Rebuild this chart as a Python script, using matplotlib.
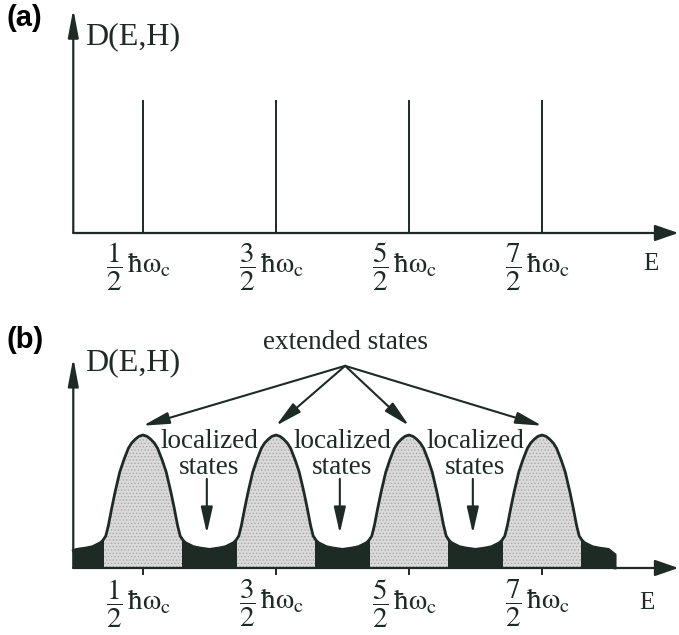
import numpy as np
import matplotlib.pyplot as plt
from matplotlib.patches import Rectangle

plt.rcParams['mathtext.fontset'] = 'stix'
plt.rcParams['hatch.linewidth'] = 0.6

# Landau levels in units of hbar*omega_c
levels = [0.5, 1.5, 2.5, 3.5]
level_numerators = ['1', '3', '5', '7']
delta_height = 1.0

# broadened level: half profile, offset from the level vs. height
profile_offset = [0.0, 0.03, 0.056, 0.085, 0.11, 0.145, 0.175, 0.21, 0.235, 0.26, 0.28, 0.30, 0.32, 0.38, 0.43, 0.50]
profile_height = [1.0, 0.99, 0.97, 0.94, 0.90, 0.81, 0.72, 0.57, 0.45, 0.32, 0.24, 0.21, 0.19, 0.16, 0.15, 0.14]
start_height = 0.13
tail_offset = 0.55
tail_height = 0.10
extended_halfwidth = 0.29

dark = '#1e2a24'
X_LEFT, X_RIGHT = -0.575, 4.53
Y_AXIS = -0.024

fig = plt.figure(figsize=(6.79, 6.35), dpi=100)
ax_a = fig.add_axes([0, 325 / 635, 1, 310 / 635])
ax_b = fig.add_axes([0, 0, 1, 325 / 635])
ax_a.set_xlim(X_LEFT, X_RIGHT)
ax_a.set_ylim(-0.579, 1.752)
ax_b.set_xlim(X_LEFT, X_RIGHT)
ax_b.set_ylim(-0.504, 1.94)
for ax in (ax_a, ax_b):
    ax.axis('off')


def draw_axes(ax, y_top, tag, tag_y, dos_y, label_y, e_pos):
    ax.annotate('', xy=(Y_AXIS, y_top), xytext=(Y_AXIS, 0), annotation_clip=False,
                arrowprops=dict(arrowstyle='-|>,head_length=0.85,head_width=0.16',
                                mutation_scale=20, lw=1.6, color=dark, shrinkA=0, shrinkB=0))
    ax.annotate('', xy=(X_RIGHT - 0.005, 0), xytext=(Y_AXIS, 0), annotation_clip=False,
                arrowprops=dict(arrowstyle='-|>,head_length=0.72,head_width=0.25',
                                mutation_scale=20, lw=1.6, color=dark, shrinkA=0, shrinkB=0))
    ax.text(-0.523, tag_y, tag, fontsize=21, fontweight='bold', family='Liberation Sans',
            ha='left', va='center', color='black')
    ax.text(0.064, dos_y, 'D(E,H)', fontsize=23, family='Liberation Serif',
            ha='left', va='center', color=dark)
    for c, num in zip(levels, level_numerators):
        ax.text(c - 0.03, label_y, r'$\dfrac{%s}{2}\,\mathrm{\hbar\omega}_\mathrm{c}$' % num,
                fontsize=21, ha='center', va='center', color=dark)
    ax.text(e_pos[0], e_pos[1], 'E', fontsize=18, family='Liberation Serif',
            ha='center', va='center', color=dark)


# (a) delta-function levels
draw_axes(ax_a, 1.684, '(a)', 1.617, 1.474, -0.256, (4.32, -0.233))
ax_a.vlines(levels, 0, delta_height, color=dark, lw=1.4)

# (b) broadened levels
draw_axes(ax_b, 1.58, '(b)', 1.714, 1.54, -0.27, (4.29, -0.26))

xs = [Y_AXIS]
ys = [start_height]
for c in levels:
    xs += [c - o for o in profile_offset[::-1]] + [c + o for o in profile_offset[1:]]
    ys += profile_height[::-1] + profile_height[1:]
xs += [levels[-1] + tail_offset, levels[-1] + tail_offset]
ys += [tail_height, 0]
xs = np.array(xs)
ys = np.array(ys)

ax_b.fill_between(xs, 0, ys, color=dark, lw=0)
for c in levels:
    light = ax_b.fill_between(xs, 0, ys, facecolor='#dadada', edgecolor='#a8a8a8',
                              hatch='.....', lw=0)
    clip = Rectangle((c - extended_halfwidth, -0.1), 2 * extended_halfwidth, 1.3,
                     transform=ax_b.transData)
    light.set_clip_path(clip)
ax_b.plot(xs, ys, color=dark, lw=2, solid_joinstyle='round')
ax_b.vlines(levels, -0.05, 0, color=dark, lw=1.4)

# extended states: arrows to the peak tops
ext_src = (2.02, 1.52)
ax_b.text(2.026, 1.647, 'extended states', fontsize=19.5, family='Liberation Serif',
          ha='center', va='baseline', color=dark)
for c in levels:
    ax_b.annotate('', xy=(c, delta_height + 0.07), xytext=ext_src,
                  arrowprops=dict(arrowstyle='-|>,head_length=0.8,head_width=0.18',
                                  mutation_scale=20, lw=1.5, color=dark, shrinkA=0, shrinkB=0))

# localized states between the levels
for c0, c1 in zip(levels[:-1], levels[1:]):
    mid = (c0 + c1) / 2
    ax_b.text(mid, 0.902, 'localized', fontsize=19.5, family='Liberation Serif',
              ha='center', va='baseline', color=dark)
    ax_b.text(mid, 0.707, 'states', fontsize=19.5, family='Liberation Serif',
              ha='center', va='baseline', color=dark)
    ax_b.annotate('', xy=(mid - 0.02, 0.26), xytext=(mid - 0.02, 0.67),
                  arrowprops=dict(arrowstyle='-|>,head_length=0.8,head_width=0.18',
                                  mutation_scale=20, lw=1.5, color=dark, shrinkA=0, shrinkB=0))

fig.savefig('out.png', dpi=100)
